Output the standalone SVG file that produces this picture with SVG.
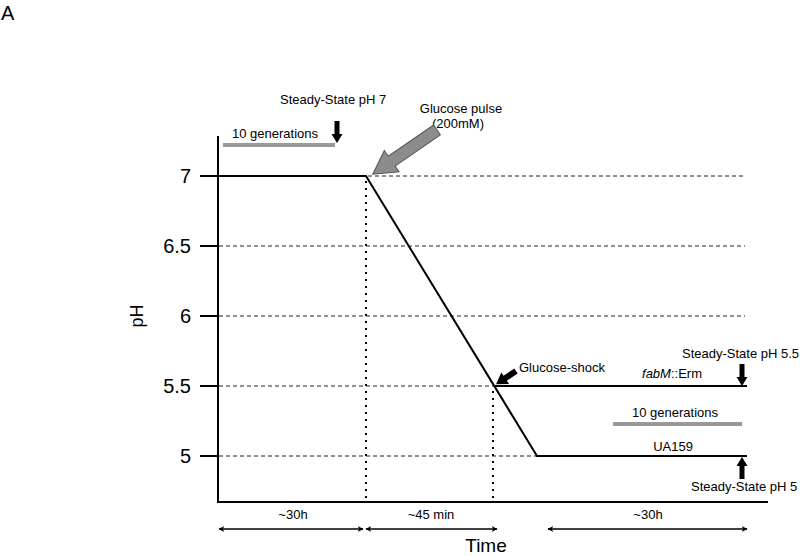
<svg xmlns="http://www.w3.org/2000/svg" width="800" height="556" viewBox="0 0 800 556">
<style>
text{font-family:"Liberation Sans",Arial,sans-serif;fill:#000}
.t13{font-size:13px}
.tick{font-size:20px;text-anchor:end}
.axis{stroke:#000;stroke-width:2;fill:none}
.grid{stroke:#222;stroke-width:1;stroke-dasharray:4 3;fill:none}
.dot{stroke:#000;stroke-width:2;stroke-dasharray:2 5;fill:none}
.curve{stroke:#000;stroke-width:2;fill:none}
.gbar{stroke:#999;stroke-width:4}
.dbl{stroke:#000;stroke-width:1.5;fill:none;marker-start:url(#ah);marker-end:url(#ah)}
</style>
<defs>
<marker id="ah" viewBox="0 0 10 10" refX="9" refY="5" markerWidth="6" markerHeight="6" orient="auto-start-reverse" markerUnits="userSpaceOnUse">
<path d="M0,0 L10,5 L0,10 L3,5 Z" fill="#000"/>
</marker>
<path id="blk" d="M-2.5,0 L2.5,0 L2.5,13 L5.5,13 L0,22 L-5.5,13 L-2.5,13 Z" fill="#000"/>
</defs>
<rect width="800" height="556" fill="#fff"/>
<text x="1" y="20" style="font-size:20px">A</text>

<g id="axes">
<line class="axis" x1="218" y1="136" x2="218" y2="502"/>
<line class="axis" x1="217" y1="502" x2="768" y2="502"/>
<line class="axis" x1="200" y1="246" x2="218" y2="246"/>
<line class="axis" x1="200" y1="316" x2="218" y2="316"/>
<line class="axis" x1="200" y1="386" x2="218" y2="386"/>
<line class="axis" x1="200" y1="456" x2="218" y2="456"/>
<text class="tick" x="191" y="183">7</text>
<text class="tick" x="191" y="253">6.5</text>
<text class="tick" x="191" y="323">6</text>
<text class="tick" x="191" y="393">5.5</text>
<text class="tick" x="191" y="463">5</text>
<text transform="translate(143,316) rotate(-90)" style="font-size:18px" text-anchor="middle">pH</text>
<text x="486" y="552" style="font-size:19px" text-anchor="middle">Time</text>
</g>

<g id="grid">
<line class="grid" x1="368" y1="176" x2="745" y2="176"/>
<line class="grid" x1="219" y1="246" x2="745" y2="246"/>
<line class="grid" x1="219" y1="316" x2="745" y2="316"/>
<line class="grid" x1="219" y1="386" x2="495" y2="386"/>
<line class="grid" x1="219" y1="456" x2="537" y2="456"/>
<line class="dot" x1="366" y1="181" x2="366" y2="500"/>
<line class="dot" x1="493" y1="391" x2="493" y2="500"/>
</g>

<g id="curves">
<polyline class="curve" points="200,176 366,176 537,456 747,456"/>
<line class="curve" x1="494" y1="386" x2="747" y2="386"/>
</g>

<g id="labels">
<text class="t13" x="280" y="104">Steady-State pH 7</text>
<text class="t13" x="232" y="138">10 generations</text>
<line class="gbar" x1="223" y1="145" x2="335" y2="145"/>
<use href="#blk" x="337" y="121"/>
<text class="t13" x="461" y="113" text-anchor="middle">Glucose pulse</text>
<text class="t13" x="458" y="128" text-anchor="middle">(200mM)</text>
<polygon transform="translate(437,130) rotate(145.5)" points="0,-6 55,-6 55,-13 78,0 55,13 55,6 0,6" fill="#8c8c8c" stroke="#555" stroke-width="1"/>
<text class="t13" x="519" y="372">Glucose-shock</text>
<polygon transform="translate(516,371) rotate(146.3)" points="0,-3 13,-3 13,-7 24,0 13,7 13,3 0,3" fill="#000"/>
<text class="t13" x="682" y="358">Steady-State pH 5.5</text>
<text class="t13" x="672" y="378" text-anchor="middle"><tspan font-style="italic">fabM</tspan>::Erm</text>
<use href="#blk" x="742" y="364"/>
<text class="t13" x="675" y="417" text-anchor="middle">10 generations</text>
<line class="gbar" x1="613" y1="424" x2="742" y2="424"/>
<text class="t13" x="673" y="451" text-anchor="middle">UA159</text>
<use href="#blk" transform="translate(742,479) scale(1,-1)"/>
<text class="t13" x="691" y="491">Steady-State pH 5</text>
</g>

<g id="durations">
<line class="dbl" x1="219" y1="529" x2="363" y2="529"/>
<line class="dbl" x1="366" y1="529" x2="497" y2="529"/>
<line class="dbl" x1="548" y1="529" x2="747" y2="529"/>
<text class="t13" x="293" y="519" text-anchor="middle">~30h</text>
<text class="t13" x="431" y="519" text-anchor="middle">~45 min</text>
<text class="t13" x="648" y="519" text-anchor="middle">~30h</text>
</g>
</svg>
